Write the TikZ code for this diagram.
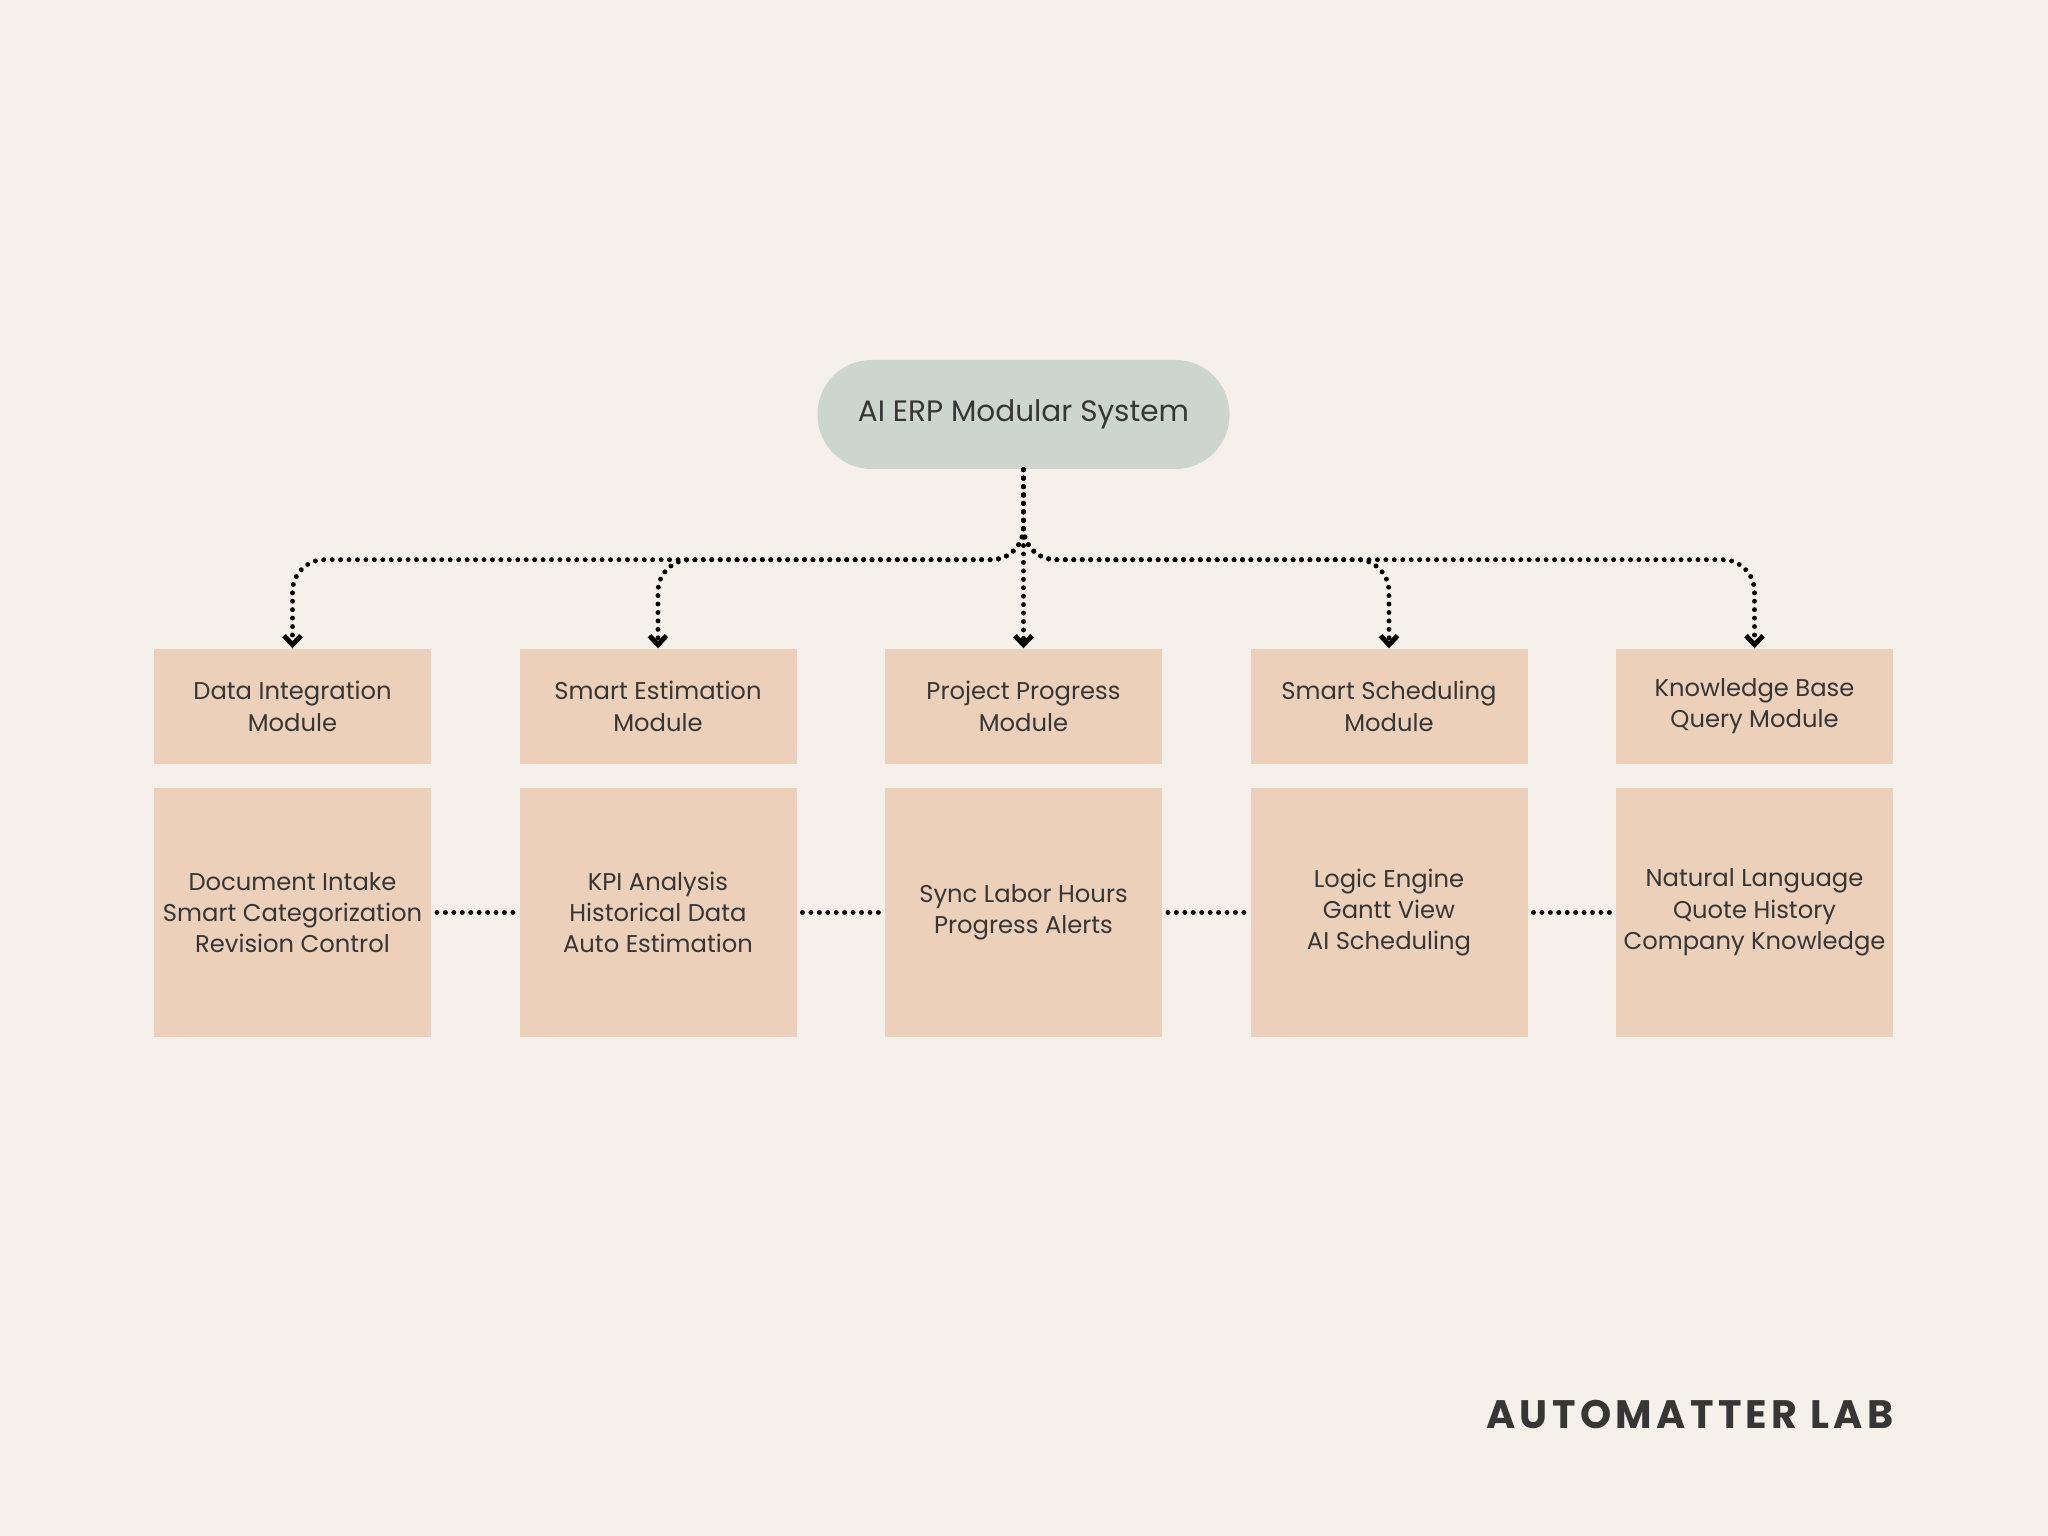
\documentclass[tikz,border=0pt]{standalone}
\usepackage{fontspec}
\setmainfont{Poppins}
\newfontfamily\brandfont{Poppins}[LetterSpace=11]
\usetikzlibrary{arrows.meta}
\definecolor{paper}{HTML}{F5F0EA}
\definecolor{peach}{HTML}{ECD0BA}
\definecolor{sage}{HTML}{CCD6CE}
\definecolor{ink}{HTML}{363636}
\tikzset{
  hub/.style={fill=sage, rounded corners=0.54cm, minimum width=4.12cm, minimum height=1.09cm, text=ink, font=\fontsize{8.4}{10}\selectfont},
  box/.style={fill=peach, align=center, minimum width=2.77cm, inner sep=1pt, text=ink, font=\fontsize{6.9}{8.9}\selectfont},
  kmodule/.style={box, minimum height=1.15cm},
  kdetail/.style={box, minimum height=2.49cm},
  dots/.style={line width=1.4pt, line cap=round, dash pattern=on 0pt off 2.4pt},
  link/.style={dots, -{Straight Barb[length=0.9mm, width=1.7mm]}, rounded corners=0.32cm},
  chain/.style={dots, shorten <=1.5pt, shorten >=1.5pt},
}

\begin{document}
\begin{tikzpicture}
    \fill[paper] (0,0) rectangle (20.48,15.36);
    \node[hub] (root) at (10.235,11.215) {AI ERP Modular System};
    \node[kmodule] (dim) at (2.925,8.295) {Data Integration\\Module};
    \node[kmodule] (sem) at (6.58,8.295) {Smart Estimation\\Module};
    \node[kmodule] (ppm) at (10.235,8.295) {Project Progress\\Module};
    \node[kmodule] (ssm) at (13.89,8.295) {Smart Scheduling\\Module};
    \node[kmodule] (kbq) at (17.545,8.295) {Knowledge Base\\Query Module};
    \node[kdetail] (dimd) at (2.925,6.235) {Document Intake\\Smart Categorization\\Revision Control};
    \node[kdetail] (semd) at (6.58,6.235) {KPI Analysis\\Historical Data\\Auto Estimation};
    \node[kdetail] (ppmd) at (10.235,6.235) {Sync Labor Hours\\Progress Alerts};
    \node[kdetail] (ssmd) at (13.89,6.235) {Logic Engine\\Gantt View\\AI Scheduling};
    \node[kdetail] (kbqd) at (17.545,6.235) {Natural Language\\Quote History\\Company Knowledge};
    \node[anchor=base east, text=ink, font=\brandfont\bfseries\fontsize{11.3}{13}\selectfont] (brand) at (19.06,1.07) {AUTOMATTER LAB};
    \draw[link] (root.south) -- ++(0,-0.9) -| (dim.north);
    \draw[link] (root.south) -- ++(0,-0.9) -| (sem.north);
    \draw[link] (root.south) -- (ppm.north);
    \draw[link] (root.south) -- ++(0,-0.9) -| (ssm.north);
    \draw[link] (root.south) -- ++(0,-0.9) -| (kbq.north);
    \draw[chain] (dimd) -- (semd);
    \draw[chain] (semd) -- (ppmd);
    \draw[chain] (ppmd) -- (ssmd);
    \draw[chain] (ssmd) -- (kbqd);
  \end{tikzpicture}
\end{document}
